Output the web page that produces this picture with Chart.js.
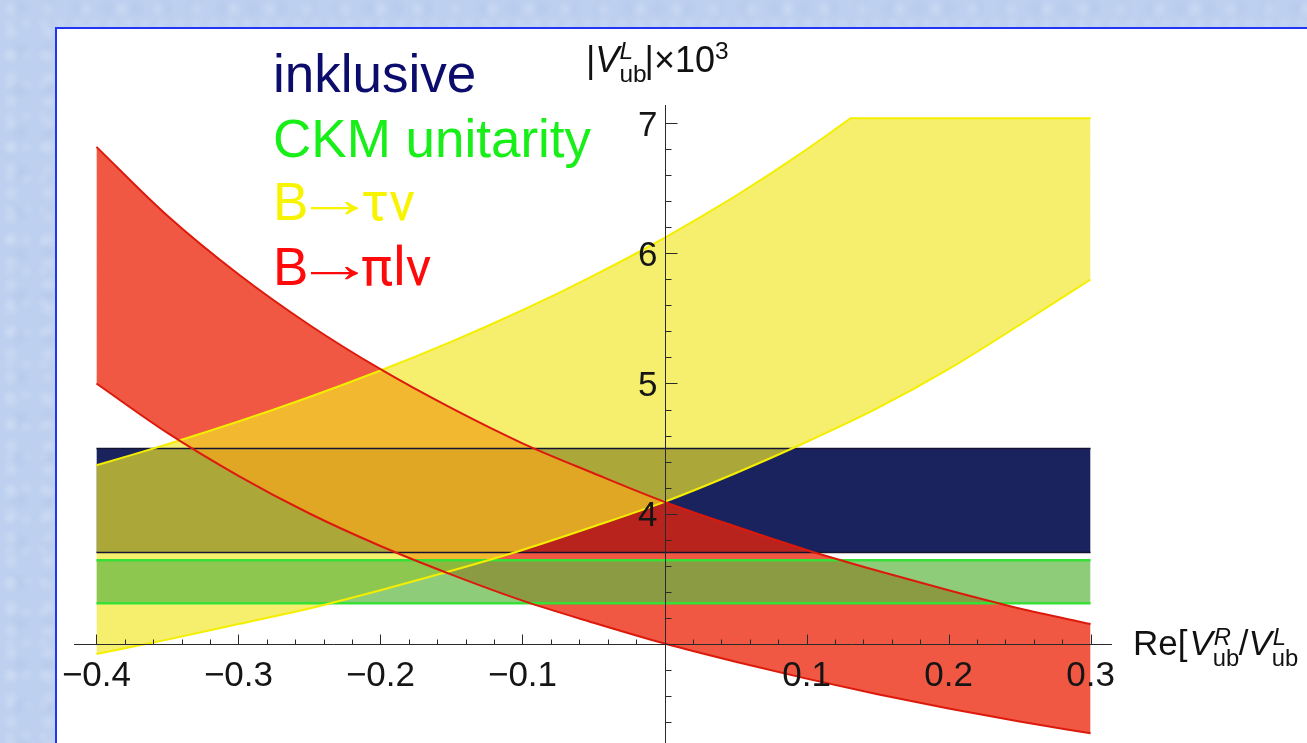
<!DOCTYPE html>
<html lang="de">
<head>
<meta charset="UTF-8">
<title>|V_ub^L| gegen Re[V_ub^R/V_ub^L]</title>
<script src="https://cdn.jsdelivr.net/npm/chart.js@4.4.1/dist/chart.umd.min.js"></script>
<style>
  html, body { margin: 0; padding: 0; width: 1307px; height: 743px; overflow: hidden; }
  body {
    position: relative;
    font-family: "Liberation Sans", Arial, sans-serif;
    background-color: #bdd0ef;
    background-image:
      radial-gradient(circle at 30% 40%, rgba(235,242,252,0.25) 0, rgba(235,242,252,0) 9px),
      radial-gradient(circle at 70% 20%, rgba(165,185,228,0.22) 0, rgba(165,185,228,0) 11px),
      radial-gradient(circle at 55% 75%, rgba(220,232,250,0.22) 0, rgba(220,232,250,0) 7px);
    background-size: 37px 23px, 29px 41px, 17px 31px;
  }
  #panel { position: absolute; left: 55px; top: 27px; width: 1400px; height: 800px; background: #fff; border: 2px solid #2136f5; }
  #chart { position: absolute; left: 0; top: 0; }
  .lab { position: absolute; white-space: nowrap; line-height: 1; color: #111; }
  .leg { left: 273px; font-size: 53px; }
  .gr { font-family: Roboto, "Liberation Sans", sans-serif; }
  .arr { display: inline-block; position: relative; top: -3px; transform: scaleX(1.5); }
  .ss { display: inline-block; position: relative; height: 0.8em; }
  .ss .up, .ss .dn { position: absolute; left: 0; font-size: 0.68em; line-height: 1; }
  .sp { position: relative; font-size: 0.68em; line-height: 1; }
</style>
</head>
<body>
  <div id="panel"></div>
  <canvas id="chart" width="1307" height="743"></canvas>

  <div class="lab leg" style="top:47px; color:#0c0c6c;">inklusive</div>
  <div class="lab leg" style="top:112px; color:#18ee18;">CKM unitarity</div>
  <div class="lab leg" style="top:175px; color:#f8f400;">B<span class="arr">→</span><span class="gr">τν</span></div>
  <div class="lab leg" style="top:240px; color:#ff0a0a;">B<span class="arr">→</span><span class="gr">πlν</span></div>

  <div class="lab" id="ylab" style="left:586px; top:42px; font-size:36px;">|<i>V</i><span class="ss" style="width:0.7em;"><i class="up" style="top:-4px;">L</i><span class="dn" style="top:19px;">ub</span></span>|×10<span class="sp" style="top:-13px;">3</span></div>

  <div class="lab" id="xlab" style="left:1133px; top:625px; font-size:35px;">Re[<i style="margin-left:2px;">V</i><span class="ss" style="width:0.74em;"><i class="up" style="top:-2px; left:1px;">R</i><span class="dn" style="top:19px;">ub</span></span>/<i>V</i><span class="ss" style="width:0.74em;"><i class="up" style="top:-2px; left:1px;">L</i><span class="dn" style="top:19px;">ub</span></span></div>

<script>
// x grid of the curves
const xGrid = [-0.40, -0.35, -0.30, -0.25, -0.20, -0.15, -0.10, -0.05, 0.00, 0.05, 0.10, 0.15, 0.20, 0.25, 0.30];

// B -> tau nu band (lower and upper edge, upper edge is cut at the top of the plot)
const tauLower = [2.92, 3.03, 3.15, 3.27, 3.41, 3.56, 3.72, 3.90, 4.09, 4.31, 4.55, 4.81, 5.11, 5.45, 5.80];
const tauUpperX = [-0.400, -0.375, -0.350, -0.325, -0.300, -0.275, -0.250, -0.225, -0.200, -0.175, -0.150, -0.125, -0.100,
                   -0.075, -0.050, -0.025, 0.000, 0.025, 0.050, 0.075, 0.100, 0.116, 0.131, 0.200, 0.250, 0.300];
const tauUpper = [4.371, 4.451, 4.533, 4.619, 4.708, 4.800, 4.896, 4.996, 5.100, 5.209, 5.322, 5.440, 5.564,
                  5.693, 5.829, 5.971, 6.120, 6.277, 6.442, 6.616, 6.800, 6.923, 7.040, 7.040, 7.040, 7.040];

// B -> pi l nu band
const piUpper = [6.82, 6.29, 5.84, 5.45, 5.11, 4.81, 4.54, 4.31, 4.09, 3.90, 3.72, 3.56, 3.41, 3.27, 3.15];
const piLower = [5.00, 4.62, 4.29, 4.00, 3.75, 3.53, 3.33, 3.16, 3.00, 2.86, 2.73, 2.61, 2.50, 2.40, 2.31];

// horizontal bands
const bandX = [-0.40, 0.30];
const inklusiv = [3.70, 4.50];
const ckmUnitarity = [3.31, 3.64];

// axes
const xTickValues = [-0.4, -0.3, -0.2, -0.1, 0.1, 0.2, 0.3];
const xTickLabels = ['−0.4', '−0.3', '−0.2', '−0.1', '0.1', '0.2', '0.3'];
const yTickValues = [4, 5, 6, 7];
const yTickLabels = ['4', '5', '6', '7'];
const xOrigin = 0;
const yOrigin = 3;

function pts(xs, ys) {
  return ys.map((v, i) => ({ x: xs[i], y: v }));
}
function flat(xs, v) {
  return xs.map(x => ({ x: x, y: v }));
}

const none = 'rgba(0,0,0,0)';
function edge(data, color, width) {
  return { data: data, borderColor: color, borderWidth: width, fill: false, pointRadius: 0 };
}
function lowerFill(data) {
  return { data: data, borderColor: none, borderWidth: 0, fill: false, pointRadius: 0 };
}
function upperFill(data, color) {
  return { data: data, borderColor: none, borderWidth: 0, fill: '-1', backgroundColor: color, pointRadius: 0 };
}
// the clipped upper edge of the tau band has a sharp corner: straight segments between dense points
function straight(ds) {
  ds.cubicInterpolationMode = 'default';
  ds.tension = 0;
  return ds;
}

// index 0 is drawn last, so the edge lines come first and the fills after them
const datasets = [
  edge(pts(xGrid, piUpper), '#dc1a0c', 2),
  edge(pts(xGrid, piLower), '#dc1a0c', 2),
  edge(pts(xGrid, tauLower), '#f4ef00', 2),
  straight(edge(pts(tauUpperX, tauUpper), '#f4ef00', 2)),
  edge(flat(bandX, ckmUnitarity[0]), '#36e036', 2.5),
  edge(flat(bandX, ckmUnitarity[1]), '#36e036', 2.5),
  edge(flat(bandX, inklusiv[0]), '#141432', 1.5),
  edge(flat(bandX, inklusiv[1]), '#141432', 1.5),
  // fills, top to bottom: CKM, B->tau nu, B->pi l nu, inklusive
  lowerFill(flat(bandX, ckmUnitarity[0])),
  upperFill(flat(bandX, ckmUnitarity[1]), 'rgba(97,183,68,0.71)'),
  lowerFill(pts(xGrid, tauLower)),
  straight(upperFill(pts(tauUpperX, tauUpper), 'rgba(242,230,40,0.68)')),
  lowerFill(pts(xGrid, piLower)),
  upperFill(pts(xGrid, piUpper), 'rgba(235,36,8,0.76)'),
  lowerFill(flat(bandX, inklusiv[0])),
  upperFill(flat(bandX, inklusiv[1]), 'rgb(27,35,95)')
];

// axes through the origin with major and minor ticks, Mathematica style
const crossAxes = {
  id: 'crossAxes',
  afterDatasetsDraw(chart) {
    const { ctx, chartArea } = chart;
    const xs = chart.scales.x, ys = chart.scales.y;
    const x0 = Math.round(xs.getPixelForValue(xOrigin)) + 0.5;
    const y0 = Math.round(ys.getPixelForValue(yOrigin)) + 0.5;
    ctx.save();
    ctx.strokeStyle = '#2a2a2a';
    ctx.lineWidth = 1;
    ctx.beginPath();
    ctx.moveTo(chartArea.left, y0);
    ctx.lineTo(chartArea.right, y0);
    ctx.moveTo(x0, chartArea.top);
    ctx.lineTo(x0, chartArea.bottom);

    // x ticks point up from the axis
    for (let k = -20; k <= 15; k++) {
      if (k === 0) continue;
      const px = Math.round(xs.getPixelForValue(k * 0.02)) + 0.5;
      const len = k % 5 === 0 ? 10 : 5;
      ctx.moveTo(px, y0);
      ctx.lineTo(px, y0 - len);
    }
    // y ticks point right from the axis
    for (let k = 12; k <= 35; k++) {
      if (k === 15) continue;
      const py = Math.round(ys.getPixelForValue(k * 0.2)) + 0.5;
      const len = k % 5 === 0 ? 12 : 6;
      ctx.moveTo(x0, py);
      ctx.lineTo(x0 + len, py);
    }
    ctx.stroke();

    ctx.fillStyle = '#151515';
    ctx.font = '35px "Liberation Sans", Arial, sans-serif';
    ctx.textBaseline = 'alphabetic';
    ctx.textAlign = 'center';
    xTickValues.forEach((v, i) => {
      ctx.fillText(xTickLabels[i], xs.getPixelForValue(v), y0 + 41);
    });
    ctx.textAlign = 'right';
    yTickValues.forEach((v, i) => {
      ctx.fillText(yTickLabels[i], x0 - 8, ys.getPixelForValue(v) + 12.5);
    });
    ctx.restore();
  }
};

new Chart(document.getElementById('chart'), {
  type: 'line',
  data: { datasets: datasets },
  options: {
    responsive: false,
    animation: false,
    devicePixelRatio: 1,
    layout: { padding: { left: 74, right: 195, top: 105, bottom: 0 } },
    elements: { line: { cubicInterpolationMode: 'monotone' }, point: { radius: 0 } },
    scales: {
      x: { type: 'linear', display: false, min: -0.4158, max: 0.3151 },
      y: { type: 'linear', display: false, min: 2.235, max: 7.142 }
    },
    plugins: {
      legend: { display: false },
      tooltip: { enabled: false },
      filler: { propagate: false }
    }
  },
  plugins: [crossAxes]
});
</script>
</body>
</html>
